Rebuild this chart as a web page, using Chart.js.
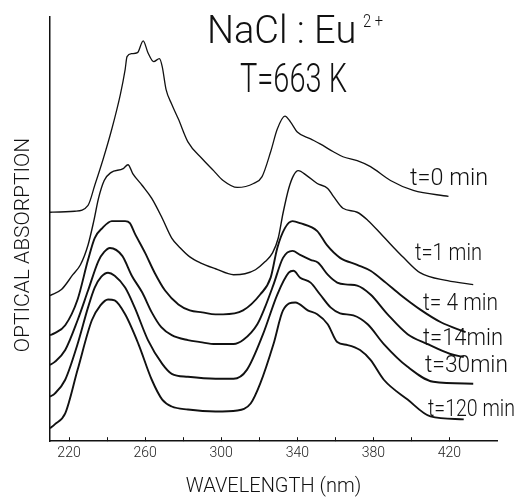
<!DOCTYPE html>
<html>
<head>
<meta charset="utf-8">
<script src="https://cdn.jsdelivr.net/npm/chart.js@4.4.1/dist/chart.umd.min.js"></script>
<style>
    html, body { margin: 0; padding: 0; background: #fff; }
</style>
</head>
<body>
<canvas id="spectra-chart" width="517" height="500"></canvas>
<script>
// wavelength (nm) / optical absorption (arb. units)
const wl_0 = [210, 223, 230, 233.5, 238, 242.5, 247, 249.5, 250.5, 253, 256, 259, 261.5, 264.5, 267.5, 269, 271, 274, 277.5, 282.5, 290, 296, 301, 308.5, 317, 321.5, 326, 329.5, 333.5, 336.5, 340, 347, 352, 359, 364, 371.5, 378.5, 389, 401, 419.5];
const abs_0 = [2.31, 2.32, 2.38, 2.58, 2.85, 3.15, 3.50, 3.75, 3.88, 3.91, 3.92, 4.04, 3.92, 3.83, 3.86, 3.78, 3.55, 3.40, 3.25, 3.02, 2.85, 2.73, 2.63, 2.56, 2.60, 2.67, 2.92, 3.15, 3.28, 3.22, 3.12, 3.05, 3.00, 2.92, 2.87, 2.83, 2.77, 2.63, 2.53, 2.47];

const wl_1 = [210, 216, 222, 226, 230, 233, 235.5, 238.5, 242, 248.5, 251, 253.5, 258.5, 263.5, 269, 274, 278.5, 283.5, 289, 297, 306.5, 312.5, 318, 323, 327, 330, 332.5, 335.5, 338, 340.5, 345, 350.5, 356, 359, 364, 371.5, 377, 385, 396, 404.5, 419, 432.5];
const abs_1 = [1.47, 1.53, 1.68, 1.78, 1.98, 2.22, 2.45, 2.63, 2.71, 2.75, 2.79, 2.70, 2.58, 2.45, 2.25, 2.05, 1.95, 1.86, 1.80, 1.74, 1.68, 1.69, 1.73, 1.81, 1.90, 2.05, 2.30, 2.55, 2.68, 2.73, 2.68, 2.60, 2.55, 2.47, 2.35, 2.31, 2.23, 2.07, 1.85, 1.70, 1.62, 1.58];

const wl_4 = [210, 212.5, 218, 224.5, 230, 233.5, 237.5, 242.5, 249.5, 252, 254.5, 260, 265, 270.5, 277.5, 283.5, 290, 297, 301, 311.5, 320.5, 326, 329.5, 333.5, 337.5, 341.5, 350.5, 355.5, 362.5, 371.5, 378.5, 386.5, 394, 404.5, 415.5, 428.5];
const abs_4 = [1.07, 1.09, 1.17, 1.43, 1.83, 2.05, 2.15, 2.22, 2.22, 2.20, 2.10, 1.90, 1.70, 1.52, 1.38, 1.32, 1.30, 1.28, 1.28, 1.32, 1.48, 1.65, 1.95, 2.15, 2.22, 2.20, 2.12, 1.98, 1.85, 1.78, 1.72, 1.60, 1.48, 1.33, 1.20, 1.10];

const wl_14 = [210, 212.5, 218, 224.5, 230, 235.5, 238.5, 241.5, 248, 253, 258.5, 263.5, 268.5, 274, 282.5, 289, 297, 306.5, 311.5, 319, 323, 327.5, 332.5, 337.5, 341.5, 347, 351, 356, 361, 366.5, 371.5, 378.5, 387.5, 398, 408.5, 420.5, 427.5];
const abs_14 = [0.77, 0.80, 0.92, 1.22, 1.52, 1.82, 1.91, 1.95, 1.87, 1.67, 1.50, 1.30, 1.15, 1.07, 1.02, 1.00, 0.98, 0.98, 1.02, 1.18, 1.35, 1.58, 1.85, 1.92, 1.88, 1.83, 1.80, 1.68, 1.60, 1.58, 1.57, 1.48, 1.28, 1.08, 0.98, 0.88, 0.85];

const wl_30 = [210, 212.5, 218, 224.5, 230, 233.5, 237, 240.5, 244, 249.5, 254.5, 261.5, 269, 274, 282.5, 297, 306.5, 313.5, 322, 329.5, 335.5, 338, 341.5, 347, 352, 357.5, 362.5, 369.5, 377, 385.5, 398, 411.5, 432.5];
const abs_30 = [0.45, 0.48, 0.62, 0.98, 1.35, 1.55, 1.66, 1.70, 1.67, 1.55, 1.35, 1.02, 0.78, 0.68, 0.65, 0.63, 0.63, 0.72, 1.08, 1.48, 1.70, 1.72, 1.65, 1.60, 1.48, 1.35, 1.29, 1.27, 1.18, 0.98, 0.75, 0.60, 0.58];

const wl_120 = [210, 212.5, 218, 224.5, 232, 236.5, 240.5, 244, 249.5, 256.5, 263.5, 269, 274, 282.5, 297, 308.5, 315.5, 320.5, 327.5, 332.5, 339, 345.5, 350.5, 356, 361, 366.5, 373, 378.5, 385.5, 398, 410, 427.5];
const abs_120 = [0.13, 0.17, 0.28, 0.72, 1.22, 1.37, 1.43, 1.42, 1.28, 0.98, 0.62, 0.42, 0.35, 0.32, 0.30, 0.31, 0.38, 0.58, 0.98, 1.32, 1.40, 1.32, 1.28, 1.18, 1.00, 0.97, 0.92, 0.82, 0.62, 0.42, 0.25, 0.22];

const curveNames = ['t=0 min', 't=1 min', 't= 4 min', 't=14min', 't=30min', 't=120 min'];
const xTickValues = [220, 240, 260, 280, 300, 320, 340, 360, 380, 400, 420];
const xTickLabels = ['220', '', '260', '', '300', '', '340', '', '380', '', '420'];

const FONT = 'Roboto, "Open Sans", sans-serif';

document.addEventListener("DOMContentLoaded", () => {
    drawSpectra();
});

function toPoints(xs, ys) {
    return xs.map((x, i) => ({ x: x, y: ys[i] }));
}

// little ticks pointing up into the plot, like the original
const innerTicks = {
    id: 'innerTicks',
    afterDraw(chart) {
        const ctx = chart.ctx;
        const xScale = chart.scales.x;
        const bottom = chart.chartArea.bottom;
        ctx.save();
        ctx.strokeStyle = '#111';
        ctx.lineWidth = 1;
        xTickValues.forEach(v => {
            const px = Math.round(xScale.getPixelForValue(v)) + 0.5;
            ctx.beginPath();
            ctx.moveTo(px, bottom);
            ctx.lineTo(px, bottom - 4);
            ctx.stroke();
        });
        ctx.restore();
    }
};

// title, curve labels and the rotated y title
const annotations = {
    id: 'annotations',
    afterDraw(chart) {
        const ctx = chart.ctx;
        ctx.save();
        ctx.fillStyle = '#111';
        ctx.textAlign = 'left';
        ctx.textBaseline = 'alphabetic';

        ctx.font = '300 38px ' + FONT;
        ctx.fillText('NaCl : Eu', 207, 43, 153);
        ctx.font = '300 18px ' + FONT;
        ctx.fillText('2 +', 363, 27, 20);
        ctx.font = '300 40px ' + FONT;
        ctx.fillText('T=663 K', 240, 92, 107);

        const labelSpots = [[410, 185, 78], [415, 260, 67], [423, 310, 75], [423, 345, 80], [425, 372, 83], [428, 416, 87]];
        ctx.font = '300 24px ' + FONT;
        curveNames.forEach((name, i) => {
            const s = labelSpots[i];
            ctx.fillText(name, s[0], s[1], s[2]);
        });

        ctx.translate(29, 245);
        ctx.rotate(-Math.PI / 2);
        ctx.textAlign = 'center';
        ctx.font = '300 21px ' + FONT;
        ctx.fillText('OPTICAL ABSORPTION', 0, 0, 216);
        ctx.restore();
    }
};

function drawSpectra() {
    const ctx = document.getElementById('spectra-chart').getContext('2d');
    const series = [
        [wl_0, abs_0, 1.3],
        [wl_1, abs_1, 1.4],
        [wl_4, abs_4, 1.9],
        [wl_14, abs_14, 1.9],
        [wl_30, abs_30, 1.9],
        [wl_120, abs_120, 1.9]
    ];

    new Chart(ctx, {
        type: 'line',
        data: {
            datasets: series.map((s, i) => ({
                label: curveNames[i],
                data: toPoints(s[0], s[1]),
                borderColor: '#111',
                borderWidth: s[2],
                pointRadius: 0,
                fill: false,
                cubicInterpolationMode: 'monotone'
            }))
        },
        options: {
            responsive: false,
            animation: false,
            devicePixelRatio: 1,
            layout: { padding: { top: 17, right: 20, bottom: 0, left: 50 } },
            plugins: {
                legend: { display: false },
                tooltip: { enabled: false }
            },
            scales: {
                x: {
                    type: 'linear',
                    min: 210,
                    max: 445,
                    afterBuildTicks: scale => {
                        scale.ticks = xTickValues.map(v => ({ value: v }));
                    },
                    ticks: {
                        autoSkip: false,
                        maxRotation: 0,
                        padding: 4,
                        color: '#222',
                        font: { family: FONT, size: 14, weight: 300 },
                        callback: (value) => {
                            const i = xTickValues.indexOf(value);
                            return i >= 0 ? xTickLabels[i] : '';
                        }
                    },
                    grid: { display: false, drawTicks: false },
                    border: { display: true, color: '#111', width: 1.5 },
                    title: {
                        display: true,
                        text: 'WAVELENGTH (nm)',
                        color: '#111',
                        font: { family: FONT, size: 20, weight: 300 },
                        padding: { top: 9, bottom: 1 }
                    }
                },
                y: {
                    min: 0,
                    max: 4.28,
                    ticks: { display: false },
                    grid: { display: false, drawTicks: false },
                    border: { display: true, color: '#111', width: 1.5 }
                }
            }
        },
        plugins: [innerTicks, annotations]
    });
}
</script>
</body>
</html>
